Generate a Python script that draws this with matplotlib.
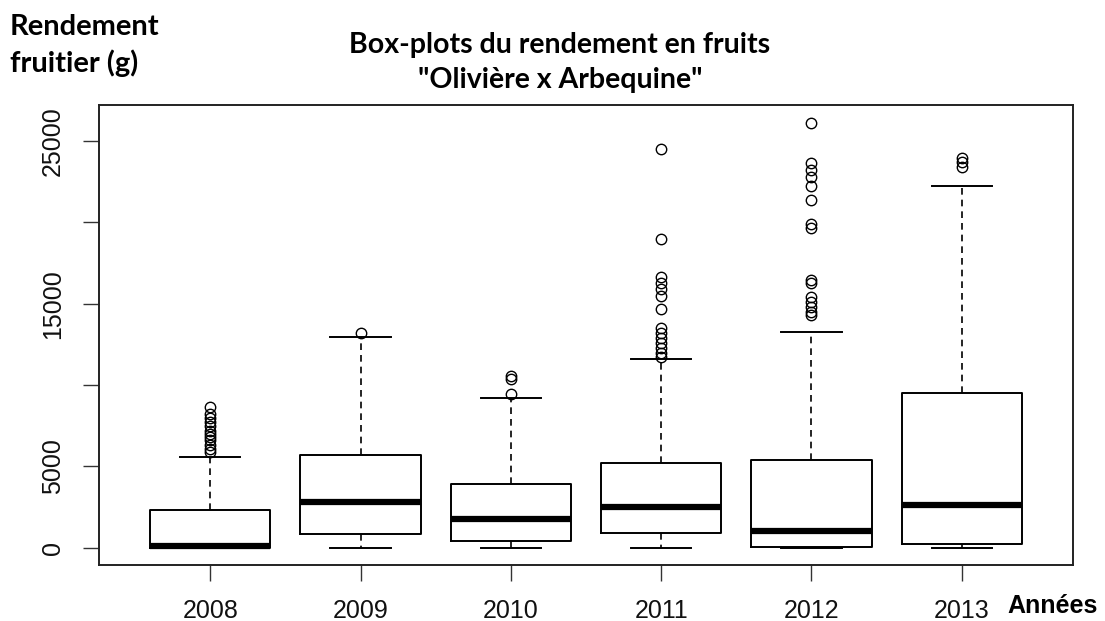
import matplotlib
matplotlib.use("Agg")
import matplotlib.pyplot as plt

years = ["2008", "2009", "2010", "2011", "2012", "2013"]
q1 = [0, 820, 410, 880, 30, 210]
med = [120, 2830, 1750, 2520, 1030, 2630]
q3 = [2320, 5700, 3900, 5190, 5390, 9500]
wlo = [0, 0, 0, 0, 0, 0]
whi = [5600, 12980, 9190, 11590, 13280, 22250]
outliers = [
    [5900, 6100, 6300, 6600, 6800, 7000, 7200, 7500, 7700, 8000, 8200, 8630],
    [13220],
    [9430, 10360, 10560],
    [11750, 11950, 12260, 12570, 12880, 13190, 13490, 14660, 15480, 15890,
     16260, 16670, 18970, 24520],
    [14310, 14510, 14820, 15130, 15440, 16300, 16460, 19640, 19910, 21380,
     22250, 22780, 23230, 23640, 26140],
    [23430, 23740, 23950],
]
ytick_vals = [0, 5000, 10000, 15000, 20000, 25000]
ytick_labels = ["0", "5000", "", "15000", "", "25000"]

W, H = 1105, 621
fig = plt.figure(figsize=(W / 100, H / 100), dpi=100)
ax = fig.add_axes([99 / W, (H - 565) / H, 974 / W, 460 / H])

stats = []
for i in range(len(years)):
    stats.append(dict(med=med[i], q1=q1[i], q3=q3[i], whislo=wlo[i],
                      whishi=whi[i], fliers=outliers[i], label=years[i]))

ax.bxp(stats, positions=range(1, len(years) + 1), widths=0.8,
       showfliers=True, patch_artist=False,
       boxprops=dict(color="black", linewidth=1.4),
       medianprops=dict(color="black", linewidth=4.5, solid_capstyle="butt"),
       whiskerprops=dict(color="black", linewidth=1.2, linestyle=(0, (4, 3))),
       capprops=dict(color="black", linewidth=1.4),
       capwidths=0.4,
       flierprops=dict(marker="o", markerfacecolor="none",
                       markeredgecolor="black", markersize=7.5,
                       markeredgewidth=1.0))

ax.set_xlim(0.26, 6.74)
ax.set_ylim(-1064, 27226)
ax.set_yticks(ytick_vals)
ax.set_yticklabels(ytick_labels, rotation=90, va="center",
                   family="Liberation Sans", fontsize=18)
ax.set_xticks(range(1, len(years) + 1))
ax.set_xticklabels(years, family="Liberation Sans", fontsize=18)
ax.tick_params(axis="both", direction="out", length=11.5, width=1.0,
               color="#333333", labelcolor="#111111")
ax.tick_params(axis="x", pad=13)
ax.tick_params(axis="y", pad=13)
for s in ax.spines.values():
    s.set_linewidth(1.4)
    s.set_color("#222222")

fig.text(560 / W, 1 - 45 / H, "Box-plots du rendement en fruits",
         ha="center", va="center", fontsize=20.5, fontweight="bold", family="Lato")
fig.text(560 / W, 1 - 80 / H, "\"Olivière x Arbequine\"",
         ha="center", va="center", fontsize=20.5, fontweight="bold", family="Lato")
fig.text(10 / W, 1 - 27 / H, "Rendement", ha="left", va="center",
         fontsize=21, fontweight="bold", family="Lato")
fig.text(10 / W, 1 - 63 / H, "fruitier (g)", ha="left", va="center",
         fontsize=21, fontweight="bold", family="Lato")
fig.text(1007 / W, 1 - 606 / H, "Années", ha="left", va="center",
         fontsize=18, fontweight="bold", family="Liberation Sans")

fig.savefig("out.png", dpi=100)
